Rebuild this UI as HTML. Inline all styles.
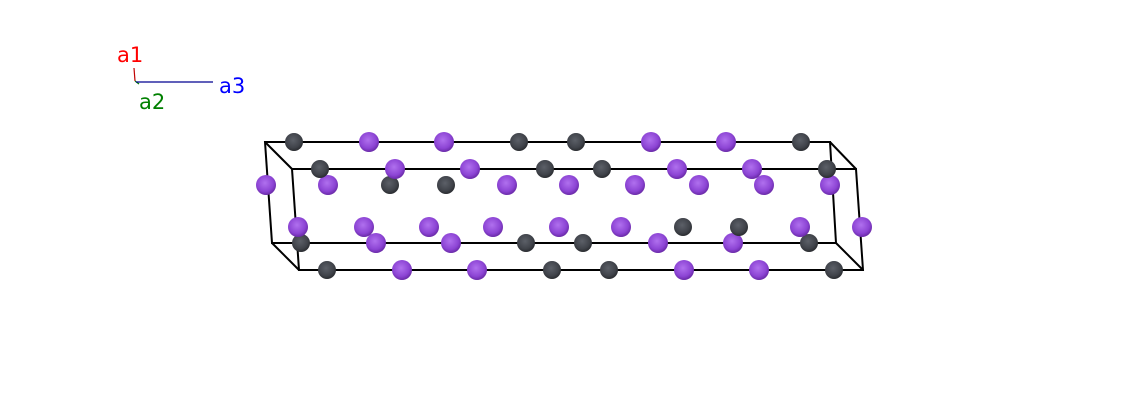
<!DOCTYPE html>
<html><head><meta charset="utf-8"><style>html,body{margin:0;padding:0;background:#fff}</style></head>
<body>
<svg width="1129" height="413" viewBox="0 0 1129 413" xmlns="http://www.w3.org/2000/svg" font-family="DejaVu Sans, Liberation Sans, sans-serif">
<defs>
<radialGradient id="p" cx="0.45" cy="0.4" r="0.6"><stop offset="0" stop-color="#b070ee"/><stop offset="0.7" stop-color="#8c44d4"/><stop offset="1" stop-color="#6a2aa8"/></radialGradient>
<radialGradient id="d" cx="0.45" cy="0.4" r="0.6"><stop offset="0" stop-color="#5c6068"/><stop offset="0.7" stop-color="#40434a"/><stop offset="1" stop-color="#2a2c30"/></radialGradient>
</defs>
<g stroke="#000" stroke-width="2" fill="none">
<polygon points="265,142 830,142 836,243 272,243"/>
<line x1="265" y1="142" x2="292" y2="169"/><line x1="830" y1="142" x2="856" y2="169"/>
<line x1="272" y1="243" x2="299" y2="270"/><line x1="836" y1="243" x2="863" y2="270"/>
<polygon points="292,169 856,169 863,270 299,270"/>
</g>
<g>
<circle cx="294" cy="142" r="9" fill="url(#d)"/><circle cx="369" cy="142" r="10" fill="url(#p)"/><circle cx="444" cy="142" r="10" fill="url(#p)"/><circle cx="519" cy="142" r="9" fill="url(#d)"/><circle cx="576" cy="142" r="9" fill="url(#d)"/><circle cx="651" cy="142" r="10" fill="url(#p)"/><circle cx="726" cy="142" r="10" fill="url(#p)"/><circle cx="801" cy="142" r="9" fill="url(#d)"/>
<circle cx="266" cy="185" r="10" fill="url(#p)"/><circle cx="328" cy="185" r="10" fill="url(#p)"/><circle cx="390" cy="185" r="9" fill="url(#d)"/><circle cx="446" cy="185" r="9" fill="url(#d)"/><circle cx="507" cy="185" r="10" fill="url(#p)"/><circle cx="569" cy="185" r="10" fill="url(#p)"/><circle cx="635" cy="185" r="10" fill="url(#p)"/><circle cx="699" cy="185" r="10" fill="url(#p)"/><circle cx="764" cy="185" r="10" fill="url(#p)"/><circle cx="830" cy="185" r="10" fill="url(#p)"/>
<circle cx="320" cy="169" r="9" fill="url(#d)"/><circle cx="395" cy="169" r="10" fill="url(#p)"/><circle cx="470" cy="169" r="10" fill="url(#p)"/><circle cx="545" cy="169" r="9" fill="url(#d)"/><circle cx="602" cy="169" r="9" fill="url(#d)"/><circle cx="677" cy="169" r="10" fill="url(#p)"/><circle cx="752" cy="169" r="10" fill="url(#p)"/><circle cx="827" cy="169" r="9" fill="url(#d)"/>
<circle cx="301" cy="243" r="9" fill="url(#d)"/><circle cx="376" cy="243" r="10" fill="url(#p)"/><circle cx="451" cy="243" r="10" fill="url(#p)"/><circle cx="526" cy="243" r="9" fill="url(#d)"/><circle cx="583" cy="243" r="9" fill="url(#d)"/><circle cx="658" cy="243" r="10" fill="url(#p)"/><circle cx="733" cy="243" r="10" fill="url(#p)"/><circle cx="809" cy="243" r="9" fill="url(#d)"/>
<circle cx="298" cy="227" r="10" fill="url(#p)"/><circle cx="364" cy="227" r="10" fill="url(#p)"/><circle cx="429" cy="227" r="10" fill="url(#p)"/><circle cx="493" cy="227" r="10" fill="url(#p)"/><circle cx="559" cy="227" r="10" fill="url(#p)"/><circle cx="621" cy="227" r="10" fill="url(#p)"/><circle cx="683" cy="227" r="9" fill="url(#d)"/><circle cx="739" cy="227" r="9" fill="url(#d)"/><circle cx="800" cy="227" r="10" fill="url(#p)"/><circle cx="862" cy="227" r="10" fill="url(#p)"/>
<circle cx="327" cy="270" r="9" fill="url(#d)"/><circle cx="402" cy="270" r="10" fill="url(#p)"/><circle cx="477" cy="270" r="10" fill="url(#p)"/><circle cx="552" cy="270" r="9" fill="url(#d)"/><circle cx="609" cy="270" r="9" fill="url(#d)"/><circle cx="684" cy="270" r="10" fill="url(#p)"/><circle cx="759" cy="270" r="10" fill="url(#p)"/><circle cx="834" cy="270" r="9" fill="url(#d)"/>
</g>
<line x1="134" y1="68" x2="135" y2="81" stroke="#c00000" stroke-width="1.2"/>
<line x1="135" y1="81" x2="139" y2="84" stroke="#008000" stroke-width="1.2"/>
<line x1="136" y1="82" x2="213" y2="82" stroke="#000090" stroke-width="1.2"/>
<text x="117" y="62" fill="#ff0000" font-size="21">a1</text>
<text x="219" y="93" fill="#0000ff" font-size="21">a3</text>
<text x="139" y="109" fill="#008000" font-size="21">a2</text>
</svg>
</body></html>
